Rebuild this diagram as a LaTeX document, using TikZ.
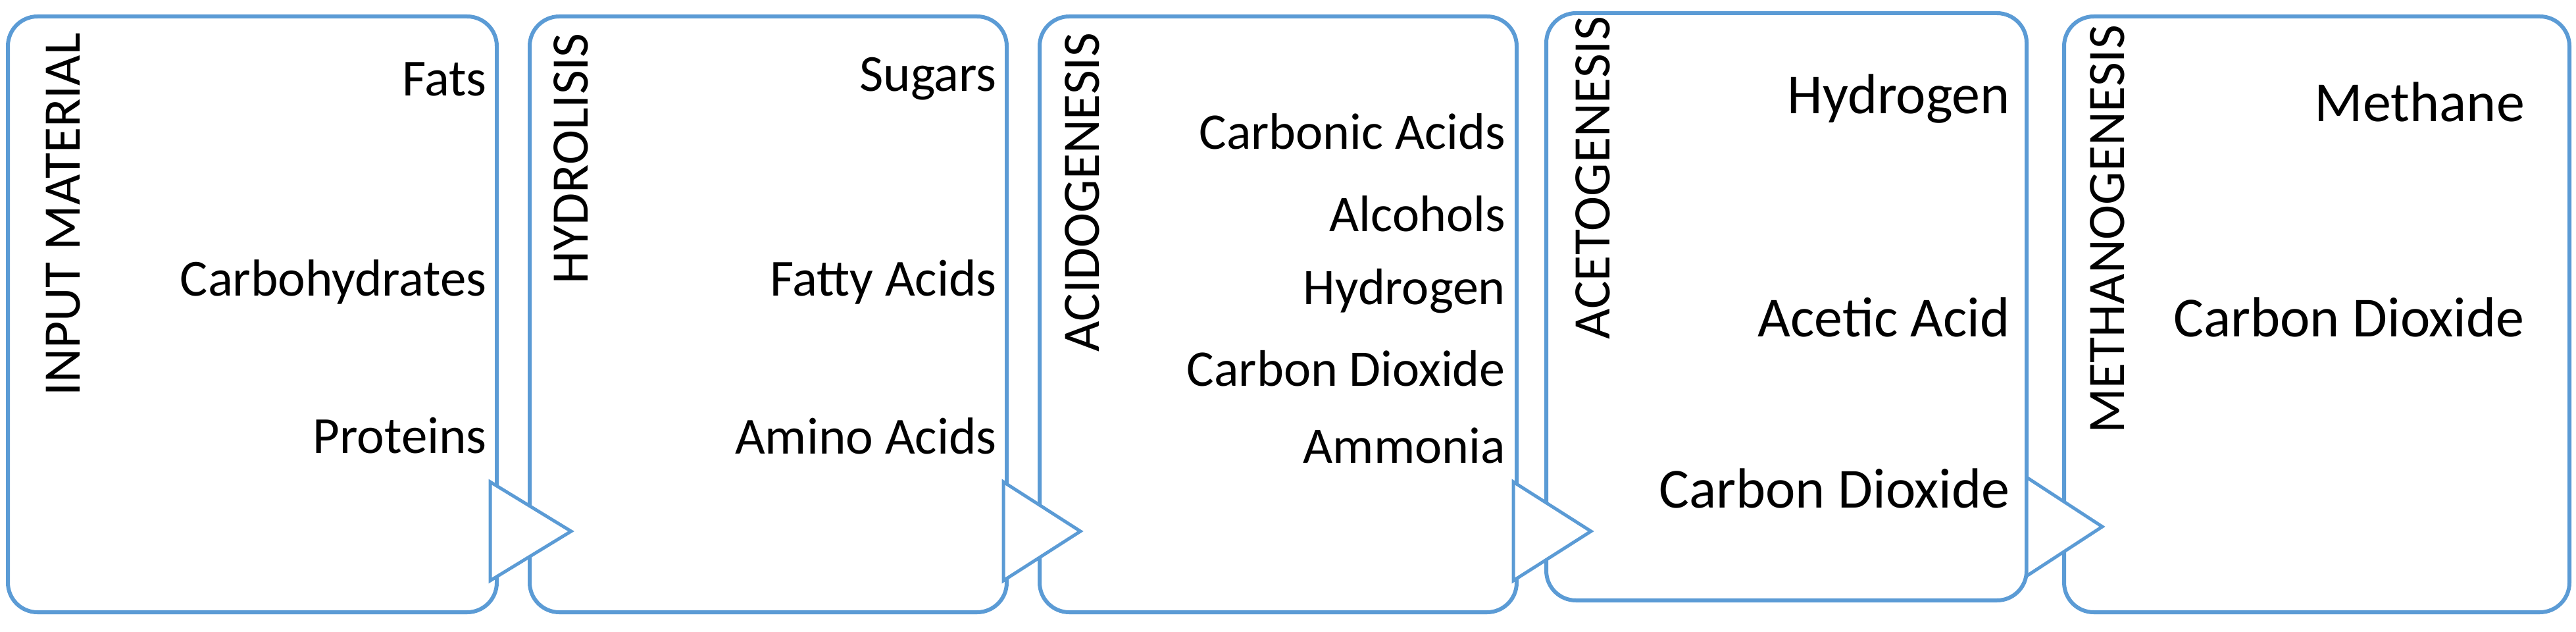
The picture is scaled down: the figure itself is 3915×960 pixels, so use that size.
\documentclass[tikz,border=0pt]{standalone}
\usepackage{fontspec}
\setmainfont{Carlito}
\definecolor{bl}{RGB}{91,155,213}
\begin{document}
\begin{tikzpicture}[x=1pt,y=-1pt,
  box/.style={draw=bl,line width=6pt,rounded corners=45pt},
  tri/.style={draw=bl,fill=white,line width=5pt,line join=miter},
  lab/.style={rotate=90,anchor=south east,inner sep=0pt,font=\fontsize{80}{86}\selectfont},
  it/.style={anchor=east,inner sep=0pt,font=\fontsize{79}{86}\selectfont},
  its/.style={anchor=east,inner sep=0pt,font=\fontsize{78}{84}\selectfont},
  itl/.style={anchor=east,inner sep=0pt,font=\fontsize{86}{92}\selectfont}]
\useasboundingbox (0,0) rectangle (3915,960);
\draw[box] (12,25) rectangle (755,930);
\draw[box] (805,25) rectangle (1530,930);
\draw[box] (1580,25) rectangle (2305,930);
\draw[box] (2350,20) rectangle (3080,912);
\draw[box] (3137,25) rectangle (3905,930);
\draw[tri] (745,732) -- (868,807) -- (745,882) -- cycle;
\draw[tri] (1525,732) -- (1642,807) -- (1525,882) -- cycle;
\draw[tri] (2300,732) -- (2418,807) -- (2300,882) -- cycle;
\draw[tri] (3080,725) -- (3195,800) -- (3080,875) -- cycle;
\node[lab] (l1) at (122,50) {INPUT MATERIAL};
\node[lab] (l2) at (894,50) {HYDROLISIS};
\node[lab] (l3) at (1671,50) {ACIDOGENESIS};
\node[lab] (l4) at (2447,25) {ACETOGENESIS};
\node[lab] (l5) at (3229,38) {METHANOGENESIS};
\node[it] (a1) at (740,120) {Fats};
\node[it] (a2) at (740,428) {Carbohydrates};
\node[it] (a3) at (740,662) {Proteins};
\node[it] (b1) at (1515,120) {Sugars};
\node[it] (b2) at (1515,428) {Fatty Acids};
\node[it] (b3) at (1515,662) {Amino Acids};
\node[its] (c1) at (2288,200) {Carbonic Acids};
\node[its] (c2) at (2288,325) {Alcohols};
\node[its] (c3) at (2288,442) {Hydrogen};
\node[its] (c4) at (2288,560) {Carbon Dioxide};
\node[its] (c5) at (2288,677) {Ammonia};
\node[itl] (d1) at (3055,150) {Hydrogen};
\node[itl] (d2) at (3055,482) {Acetic Acid};
\node[itl] (d3) at (3055,742) {Carbon Dioxide};
\node[itl] (e1) at (3837,155) {Methane};
\node[itl] (e2) at (3837,482) {Carbon Dioxide};
\end{tikzpicture}
\end{document}
